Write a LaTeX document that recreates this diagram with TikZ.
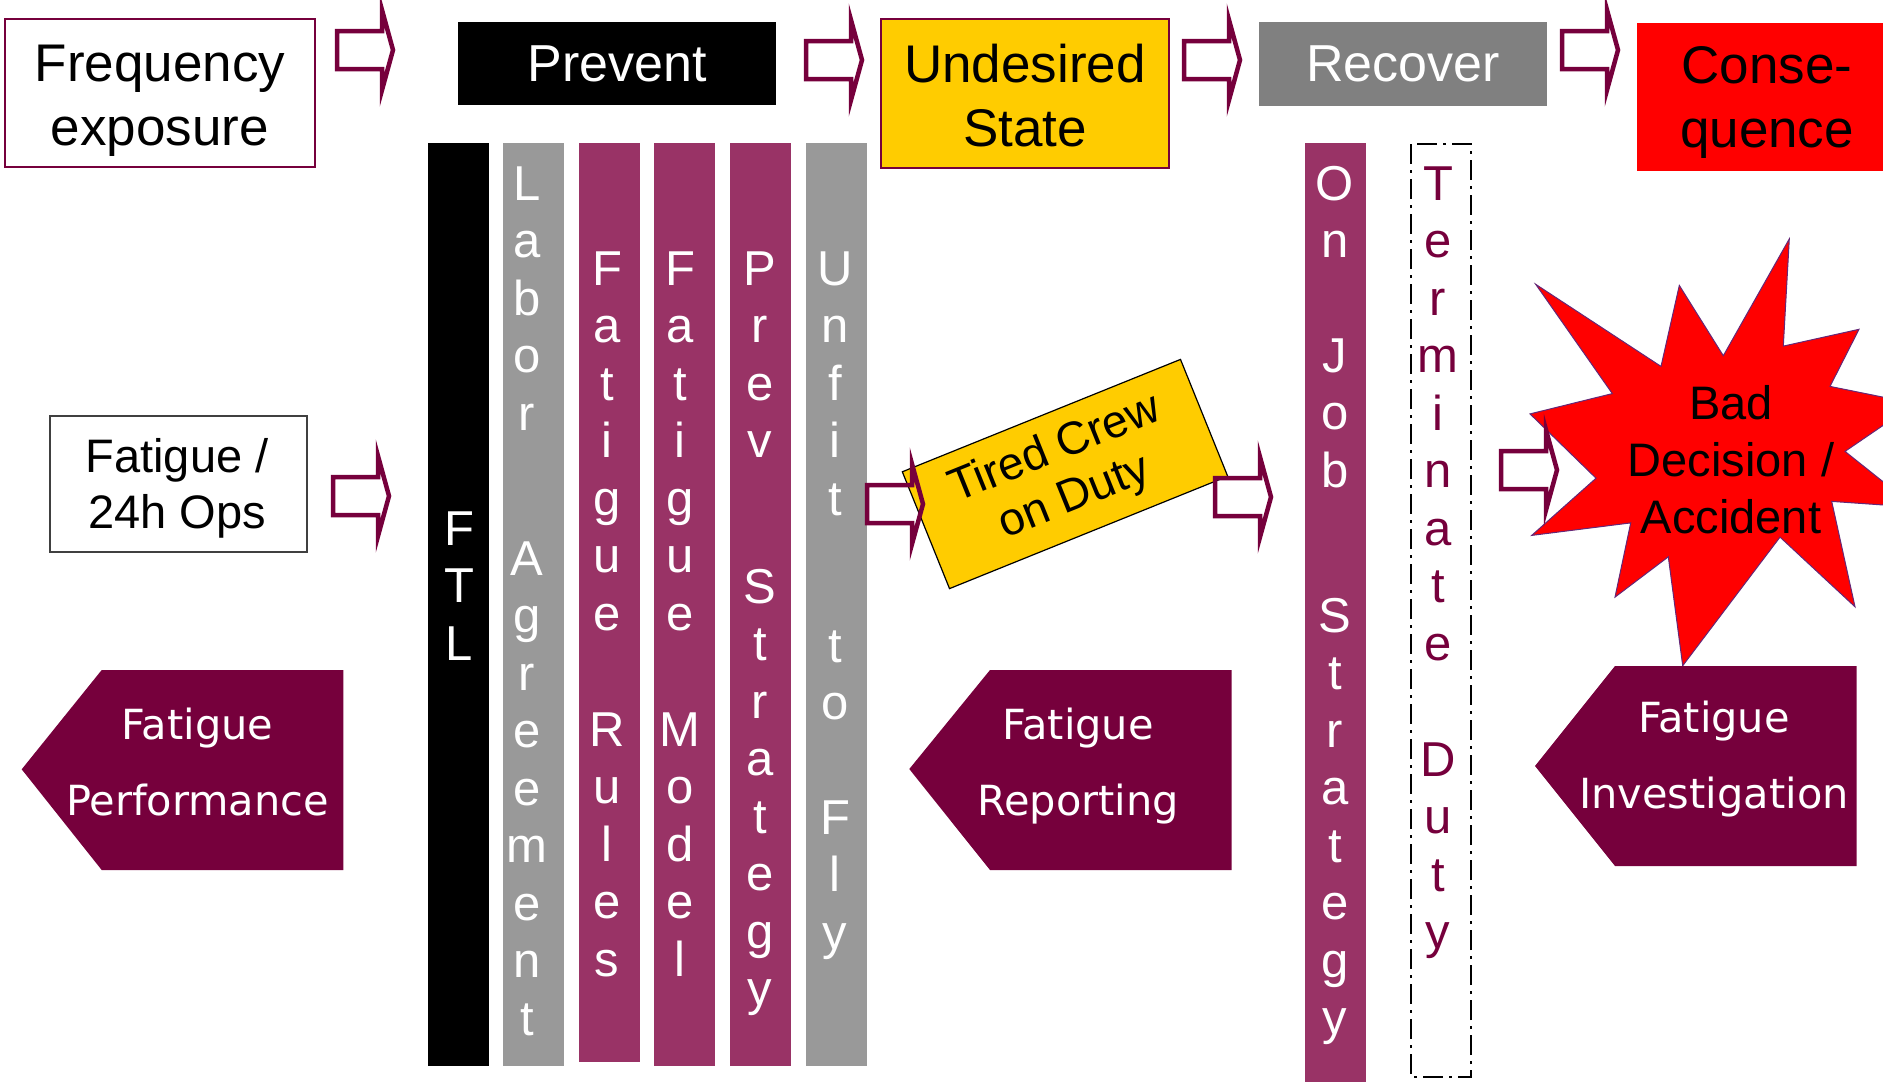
\documentclass[tikz,border=0pt]{standalone}
\usepackage{fontspec}
\setmainfont{Liberation Sans}
\newfontfamily\tagfont{DejaVu Sans}
\usepackage{tikz}
\usetikzlibrary{positioning}
\definecolor{plum}{RGB}{118,0,60}
\definecolor{rose}{RGB}{153,51,102}
\definecolor{bargray}{RGB}{153,153,153}
\definecolor{recgray}{RGB}{128,128,128}
\definecolor{gold}{RGB}{255,204,0}
\definecolor{starline}{RGB}{100,40,120}

% open block arrow: left end x, centre y
\newcommand\blockarrow[2]{%
  \draw[barrow] (#1+2,#2-19) -- ++(45,0) -- ++(0,-21) -- (#1+58,#2)
    -- (#1+47,#2+40) -- ++(0,-21) -- (#1+2,#2+19) -- cycle;}
% letters stacked one under the other: name, x, first baseline, colour, letters
\newcommand\stackword[5]{%
  \foreach \ch [count=\k from 0] in {#5}
    \node[letter, text=#4] (#1-\k) at (#2,#3+57.5*\k) {\ch};}

\begin{document}
\begin{tikzpicture}[
  x=1bp, y=-1bp,
  barrow/.style={draw=plum, line width=4.5bp, line join=miter},
  head/.style={inner sep=0pt, font=\fontsize{52bp}{64bp}\selectfont},
  txt/.style={anchor=base, align=center, inner sep=0pt, font=\fontsize{53bp}{64bp}\selectfont},
  letter/.style={anchor=base, inner sep=0pt, font=\fontsize{49bp}{57bp}\selectfont},
  tagtxt/.style={anchor=base, align=center, inner sep=0pt, text=white, font=\tagfont\fontsize{41.5bp}{76bp}\selectfont}
]
\useasboundingbox (0,0) rectangle (1883,1081);
\clip (0,0) rectangle (1883,1081);

% top row (text nodes sit on the baseline of their last line)
\node[draw=plum, line width=1.5bp, minimum width=310bp, minimum height=148bp] (freq) at (160,93) {};
\node[txt] (freq-t) at (160,145) {Frequency\\exposure};
\node[head, fill=black, text=white, minimum width=318bp, minimum height=83bp] (prevent) at (617,63.5) {Prevent};
\node[draw=plum, fill=gold, line width=1.5bp, minimum width=288bp, minimum height=149bp] (undes) at (1025,93.5) {};
\node[txt] (undes-t) at (1025,146) {Undesired\\State};
\node[head, fill=recgray, text=white, minimum width=288bp, minimum height=84bp] (recover) at (1403,64) {Recover};
\node[fill=red, minimum width=260bp, minimum height=148bp] (conseq) at (1767,97) {};
\node[txt] (conseq-t) at (1767,147) {Conse-\\quence};

% left input
\node[draw=black!75, line width=1.5bp, minimum width=257bp, minimum height=136bp] (ops) at (178.5,484) {};
\node[txt, font=\fontsize{47bp}{56bp}\selectfont] (ops-t) at (177,528) {Fatigue /\\24h Ops};

% barrier bars
\foreach \bx/\col/\bot in {428/black/1066, 503/bargray/1066, 579/rose/1062, 654/rose/1066,
                           730/rose/1066, 806/bargray/1066, 1305/rose/1090}
  \fill[\col] (\bx,143) rectangle ++(61,\bot-143);
\draw[line width=2.5bp, dash pattern=on 20bp off 6bp on 3bp off 6bp] (1411,144) rectangle (1471,1077);

\stackword{ftl}{459}{545}{white}{F,T,L}
\stackword{labor}{527}{200}{white}{L,a,b,o,r}
\stackword{agree}{527}{575}{white}{A,g,r,e,e,m,e,n,t}
\stackword{fatr}{607}{285}{white}{F,a,t,i,g,u,e}
\stackword{rules}{607}{746}{white}{R,u,l,e,s}
\stackword{fatm}{680}{285}{white}{F,a,t,i,g,u,e}
\stackword{model}{680}{746}{white}{M,o,d,e,l}
\stackword{prev}{760}{285}{white}{P,r,e,v}
\stackword{strat}{760}{603}{white}{S,t,r,a,t,e,g,y}
\stackword{unfit}{835}{285}{white}{U,n,f,i,t}
\stackword{to}{835}{662}{white}{t,o}
\stackword{fly}{835}{834}{white}{F,l,y}
\stackword{on}{1335}{200}{white}{O,n}
\stackword{job}{1335}{372}{white}{J,o,b}
\stackword{jobstrat}{1335}{632}{white}{S,t,r,a,t,e,g,y}
\stackword{term}{1438}{200}{plum}{T,e,r,m,i,n,a,t,e}
\stackword{duty}{1438}{776}{plum}{D,u,t,y}

% undesired state in the middle
\node[draw=black, fill=gold, line width=1.2bp, rotate=22, minimum width=300bp, minimum height=126bp,
      align=center, inner sep=0pt, font=\fontsize{46bp}{52bp}\selectfont] (tired) at (1065,474) {Tired Crew\\on Duty};

% consequence burst
\filldraw[fill=red, draw=starline, line width=1bp]
  (1789.3,238.9) -- (1783.3,346.1) -- (1859,329.3) -- (1830,386.4) -- (1915,403.6)
  -- (1845,451.4) -- (1915,507.2) -- (1831.7,501.4) -- (1855,606.8) -- (1780,537.1)
  -- (1682.7,665.7) -- (1668.3,556.8) -- (1615,597.1) -- (1630.7,522.9) -- (1531.7,535.4)
  -- (1596,478.2) -- (1530,413.9) -- (1612.3,393.6) -- (1535.7,284.3) -- (1661,366.4)
  -- (1679.3,285.4) -- (1723.3,355.7) -- cycle;
\node[txt, font=\fontsize{47bp}{57bp}\selectfont] (bad) at (1731,533.6) {Bad\\Decision /\\Accident};

% fatigue measures
\fill[plum] (21.7,769.3) -- (101.7,670) -- (343.3,670) -- (343.3,870) -- (101.7,870) -- cycle;
\fill[plum] (909.3,769) -- (990,670) -- (1231.7,670) -- (1231.7,870) -- (990,870) -- cycle;
\fill[plum] (1535,766) -- (1615,666) -- (1856.7,666) -- (1856.7,866) -- (1615,866) -- cycle;
\node[tagtxt] (perf) at (197.5,815) {Fatigue\\Performance};
\node[tagtxt] (report) at (1078,815) {Fatigue\\Reporting};
\node[tagtxt] (invest) at (1714,808.3) {Fatigue\\Investigation};

% flow arrows
\foreach \ax/\ay in {335/50, 804/60, 1182/60, 1560/50, 331/496, 865/504, 1213/497, 1499/470}
  {\blockarrow{\ax}{\ay}}
\end{tikzpicture}
\end{document}
